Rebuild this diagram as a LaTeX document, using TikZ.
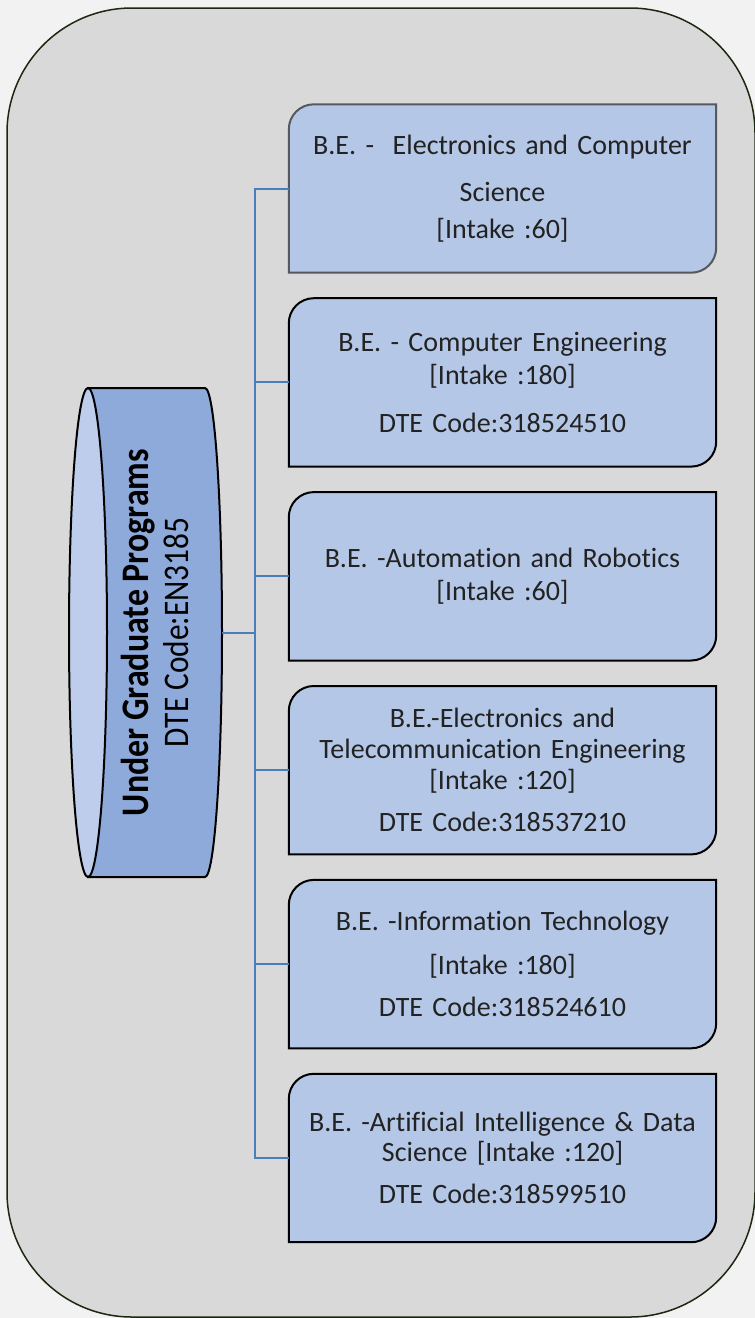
\documentclass[tikz,border=0pt]{standalone}
\usepackage{fontspec}
\setmainfont{Carlito}[Ligatures=NoCommon]
\newfontfamily\cylfont[FakeStretch=0.87,Ligatures=NoCommon]{Carlito}
\usetikzlibrary{positioning,backgrounds}

\definecolor{pagegray}{HTML}{F2F2F2}
\definecolor{panelgray}{HTML}{D9D9D9}
\definecolor{panelline}{HTML}{1C2810}
\definecolor{progfill}{HTML}{B4C7E7}
\definecolor{firstline}{HTML}{55585E}
\definecolor{cylbody}{HTML}{8EAADB}
\definecolor{cylface}{HTML}{BDCDEB}
\definecolor{linkblue}{HTML}{4A7EBB}
\definecolor{textdark}{HTML}{222222}

\tikzset{
  prog/.style={text width=412pt, align=center, inner sep=0pt,
    minimum width=427pt, minimum height=168pt, text=textdark,
    font=\fontsize{28}{33}\selectfont},
  progline/.style={line width=2pt, fill=progfill},
  link/.style={draw=linkblue, line width=2pt},
}

\begin{document}
\begin{tikzpicture}[x=1pt,y=1pt]
\useasboundingbox (0,0) rectangle (755,-1318);

% programme boxes
\node[prog] (b1) at (502.5,-188.5) {B.E. -\ \ Electronics and Computer\\[14pt]Science\\[4pt]{[Intake :60]}};
\node[prog, below=25.5pt of b1] (b2) {B.E. - Computer Engineering\\{[Intake :180]}\\[15pt]DTE Code:318524510};
\node[prog, below=25.5pt of b2] (b3) {B.E. -Automation and Robotics\\{[Intake :60]}};
\node[prog, below=25.5pt of b3] (b4) {B.E.-Electronics and\\[-2pt]Telecommunication Engineering\\[-2pt]{[Intake :120]}\\[9pt]DTE Code:318537210};
\node[prog, below=25.5pt of b4] (b5) {B.E. -Information Technology\\[11pt]{[Intake :180]}\\[9pt]DTE Code:318524610};
\node[prog, below=25.5pt of b5] (b6) {B.E. -Artificial Intelligence \& Data\\[-3pt]Science {[Intake :120]}\\[9pt]DTE Code:318599510};

\begin{scope}[on background layer]
\fill[pagegray] (0,0) rectangle (755,-1318);
\draw[draw=panelline, line width=1.5pt, fill=panelgray, rounded corners=125pt] (7,-8) rectangle (755,-1317);
\foreach \b/\c in {b1/firstline,b2/black,b3/black,b4/black,b5/black,b6/black}
  \draw[progline, draw=\c] (\b.south west) -- ([yshift=-25pt]\b.north west)
    arc[start angle=180, end angle=90, radius=25pt] -- (\b.north east)
    -- ([yshift=25pt]\b.south east) arc[start angle=0, end angle=-90, radius=25pt] -- cycle;
\end{scope}

% cylinder
\draw[line width=2pt, fill=cylbody] (88,-388) -- (205,-388)
  arc[start angle=90, end angle=-90, x radius=17, y radius=244.5] -- (88,-877) -- cycle;
\draw[line width=2pt, fill=cylface] (88,-632.5) ellipse[x radius=19, y radius=244.5];
\node[rotate=90, align=center, inner sep=0pt, font=\cylfont\fontsize{36}{40}\selectfont] (ug) at (155,-632.5)
  {{\fontsize{39}{40}\selectfont\bfseries Under Graduate Programs}\\DTE Code:EN3185};
\coordinate (cylr) at (222,-632.5);

% connectors
\coordinate (jn) at (255,-632.5);
\draw[link] (cylr) -- (jn);
\draw[link] (b1.west) -- (b1.west -| jn) -- (b6.west -| jn) -- (b6.west);
\foreach \b in {b2,b3,b4,b5}
  \draw[link] (\b.west) -- (\b.west -| jn);
\end{tikzpicture}
\end{document}
